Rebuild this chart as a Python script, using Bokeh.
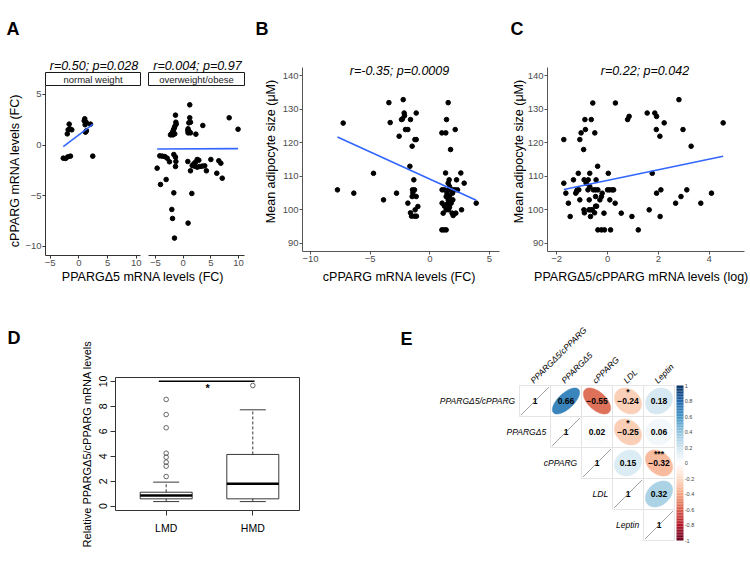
import numpy as np
from bokeh.plotting import figure
from bokeh.models import Range1d, FixedTicker, LinearAxis
from bokeh.core.properties import value
from bokeh.embed import file_html
from bokeh.resources import INLINE

FONT = "Liberation Sans"
BLUE = "#3366FF"
TICKCOL = "#4D4D4D"

# ---------------- data ----------------
# Panel A (facets)
A_facets = ["normal weight", "overweight/obese"]
A_titles = ["r=0.50; p=0.028", "r=0.004; p=0.97"]
A_nw_x = [-1.67, -1.85, -1.56, -1.22, -2.0, 1.04, 0.94, 1.28, 1.1, 2.03, 1.16, 1.33, -2.7, -2.3, -1.9, -1.45, 2.43]
A_nw_y = [2.06, 1.5, 1.6, 1.5, 1.1, 2.59, 2.39, 2.25, 2.0, 2.06, 1.27, 1.4, -1.3, -1.33, -1.17, -1.1, -1.1]
A_ow_x = [1.2, -1.37, 1.2, 8.3, -1.3, -1.25, -1.5, -1.6, -1.73, -1.9, -2.1, -2.27, -1.85, -1.5,
          1.03, 1.33, 0.9, 0.85, 1.1, 1.33, 0.9, 2.3, 3.55, 9.9, -4.2, -3.77, -3.3, -2.87, -2.45,
          -1.67, -1.37, -1.3, -1.37, -4.67, -4.07, -3.05, -1.67, -2.03, -1.9, -1.55, 0.9, 1.57, 0.85,
          1.64, 1.33, 1.93, 2.23, 2.54, 2.83, 3.0, 3.44, 3.9, 4.2, 5.0, 6.07, 6.43, 6.8, 7.05, 2.54, 2.1]
A_ow_y = [3.97, 2.95, 2.69, 2.69, 2.25, 2.06, 1.83, 1.66, 1.5, 1.27, 1.1, 1.0, 1.0, 1.1,
          2.19, 2.25, 1.6, 1.43, 1.33, 1.2, 1.2, 1.07, 1.93, 1.56, -1.07, -1.1, -1.14, -1.3, -1.66,
          -0.94, -1.2, -1.63, -2.12, -2.29, -3.9, -3.41, -4.73, -6.37, -7.26, -9.2, -7.72, -4.79, -1.63,
          -2.03, -2.55, -1.86, -1.7, -1.43, -1.5, -2.12, -2.09, -2.06, -2.55, -1.43, -2.79, -1.56, -1.8, -3.28, -2.19, -2.1]
A_fit_nw = (0.427, 1.0)      # slope, intercept
A_fit_ow = (0.0027, -0.387)
A_xticks = [-5, 0, 5, 10]
A_yticks = [-10, -5, 0, 5]
A_xlabel = "PPARG\u03945 mRNA levels (FC)"
A_ylabel = "cPPARG mRNA levels (FC)"

# Panel B
B_title = "r=-0.35; p=0.0009"
B_x = [-7.26, -7.74, -6.37, -4.72, -3.88, -3.43, -3.32, -2.79, -2.57, -2.23, -2.15, -2.12, -2.29, -2.37, -1.62,
       -1.14, -2.04, -1.84, -1.25, -1.14, -1.48, -1.67, -1.34, -1.45, -1.28, -1.42, -1.14, -1.48, -1.84, -1.0,
       -1.23, -1.62, -1.53, -1.28, -1.12,
       1.54, 1.40, 1.01, 1.34, 2.13, 1.74, 1.32, 2.6, 1.62, 2.24, 1.54, 1.65, 2.88, 1.03, 1.23, 1.6, 1.93, 2.1,
       2.32, 1.45, 1.65, 1.9, 1.37, 1.54, 1.93, 1.79, 1.03, 1.45, 1.23, 1.65, 1.37, 1.57, 2.66, 1.12, 2.18, 1.96,
       1.87, 1.01, 1.18, 1.37, 3.89]
B_y = [125.9, 105.96, 104.97, 110.9, 102.97, 132.0, 126.05, 104.97, 121.98, 132.9, 128.9, 128.1, 127.15, 126.95,
       126.95, 128.9, 123.97, 123.97, 120.98, 120.98, 119.0, 113.0, 108.95, 105.96, 105.96, 105.07, 103.97, 103.97,
       101.99, 100.99, 100.0, 99.1, 98.1, 98.1, 98.1,
       132.0, 126.95, 122.97, 122.97, 123.97, 118.0, 111.0, 111.0, 108.95, 108.95, 107.96, 106.96, 107.96, 105.96,
       105.96, 105.96, 105.96, 105.96, 105.96, 104.97, 104.07, 104.97, 103.97, 102.97, 102.97, 101.99, 101.99,
       101.69, 101.09, 100.8, 100.0, 100.0, 100.0, 99.0, 99.0, 98.3, 99.0, 94.0, 94.0, 94.0, 101.99]
B_fit = (-1.625, 109.17)
B_xticks = [-10, -5, 0, 5]
B_xlabel = "cPPARG mRNA levels (FC)"
BC_yticks = [90, 100, 110, 120, 130, 140]
BC_ylabel = "Mean adipocyte size (\u03bcM)"

# Panel C
C_title = "r=0.22; p=0.042"
C_x = [-1.72, -1.72, -1.64, -1.54, -1.47, -1.34, -1.15, -1.25, -1.19, -1.13,
       -1.22, -1.09, -1.09, -1.04, -0.87, -0.94, -0.89, -0.64, -0.58, -0.5,
       -0.92, -0.84, -0.76, -0.7, -0.7, -0.77, -0.56, -0.47, -0.38, -0.45,
       -0.39, -0.72, -0.47, -0.3, -0.21, -0.24, -0.93, -0.91, -0.73, -0.66,
       -0.6, -0.51, -0.47, -0.43, -0.14, -0.67, -0.38, -0.24, -0.12, 0.12,
       0.0, 0.08, 0.18, 0.24, 0.03, 0.09, 0.3, 0.31, 0.54, 0.79,
       0.85, 0.96, 1.21, 1.56, 1.64, 1.76, 1.86, 1.93, 1.92, 2.06,
       2.23, 1.93, 2.1, 2.07, 2.68, 2.81, 2.89, 2.97, 3.12, 3.29,
       3.67, 4.09, 4.55]
C_y = [120.98, 107.95, 104.97, 101.98, 98.0, 108.95, 110.9, 104.97, 105.96, 105.96,
       105.5, 102.97, 120.98, 122.97, 123.97, 118.0, 126.95, 126.95, 131.9, 122.97,
       108.95, 107.95, 108.95, 110.9, 106.96, 105.96, 105.96, 105.96, 105.96, 108.95,
       113.0, 102.97, 103.96, 102.97, 104.97, 103.96, 99.99, 99.1, 99.99, 99.99,
       99.99, 99.1, 101.08, 101.08, 99.0, 98.0, 94.0, 94.0, 94.0, 94.0,
       105.96, 105.96, 105.96, 105.96, 110.9, 102.97, 101.98, 131.9, 99.0, 126.95,
       127.9, 98.0, 94.0, 128.9, 99.99, 110.9, 128.9, 127.9, 123.97, 121.98,
       125.96, 104.97, 105.96, 98.0, 101.98, 132.9, 103.96, 123.97, 105.96, 118.99,
       101.98, 104.97, 125.96]
C_fit = (1.585, 108.79)
C_xticks = [-2, 0, 2, 4]
C_xlabel = "PPARG\u03945/cPPARG mRNA levels (log)"

# Panel D (box plot statistics)
D_groups = ["LMD", "HMD"]
D_wlo = [0.37, 0.37]
D_q1 = [0.59, 0.59]
D_med = [0.86, 1.80]
D_q3 = [1.12, 4.15]
D_whi = [1.93, 7.73]
D_out = [[2.38, 3.21, 3.53, 3.93, 4.25, 6.29, 7.35, 8.56], [9.68]]
D_yticks = [0, 2, 4, 6, 8, 10]
D_ylabel = "Relative PPARG\u03945/cPPARG mRNA levels"
D_sig = "*"

# Panel E (correlation matrix, upper triangle)
E_vars = ["PPARG\u03945/cPPARG", "PPARG\u03945", "cPPARG", "LDL", "Leptin"]
E_r = [[1.00, 0.66, -0.55, -0.24, 0.18],
       [None, 1.00, 0.02, -0.25, 0.06],
       [None, None, 1.00, 0.15, -0.32],
       [None, None, None, 1.00, 0.32],
       [None, None, None, None, 1.00]]
E_stars = {(0, 3): "*", (1, 3): "*", (2, 4): "***"}
E_cbar_ticks = [1, 0.8, 0.6, 0.4, 0.2, 0, -0.2, -0.4, -0.6, -0.8, -1]

# ---------------- page geometry (pixels from the top-left of the figure) ----------------
W, H = 750, 565


def xr(px0, px1, d0, d1):
    s = (px1 - px0) / (d1 - d0)
    return Range1d(d0 - px0 / s, d1 + (W - px1) / s)


def yr(px_top, px_bot, d_top, d_bot):
    s = (px_bot - px_top) / (d_top - d_bot)
    return Range1d(d_bot - (H - px_bot) / s, d_top + px_top / s)


p = figure(width=W, height=H, x_range=Range1d(0, W), y_range=Range1d(H, 0),
           x_axis_location=None, y_axis_location=None, output_backend="svg",
           toolbar_location=None, min_border=0, title=None)
p.outline_line_color = None
p.xgrid.visible = False
p.ygrid.visible = False

# panel frames (px: left, right, top, bottom)
A1_box = (45, 140, 85, 255)
A2_box = (148, 244, 85, 255)
B_box = (302, 499, 67, 251)
C_box = (547, 744, 67, 251)
D_box = (115, 299, 377, 510)
E_box = (519, 674, 385, 540)

A1_xlim = (-5.79, 10.73)
A2_xlim = (-6.23, 11.06)
A_ylim = (5.88, -10.92)
B_xlim = (-10.67, 5.84)
C_xlim = (-2.362, 5.39)
BC_ylim = (142.5, 87.55)
D_xlim = (0.415, 2.539)
D_ylim = (10.32, -0.345)

p.extra_x_ranges = {
    "A1x": xr(A1_box[0], A1_box[1], *A1_xlim),
    "A2x": xr(A2_box[0], A2_box[1], *A2_xlim),
    "Bx": xr(B_box[0], B_box[1], *B_xlim),
    "Cx": xr(C_box[0], C_box[1], *C_xlim),
    "Dx": xr(D_box[0], D_box[1], *D_xlim),
    "Ex": xr(E_box[0], E_box[1], 0.5, 5.5),
}
p.extra_y_ranges = {
    "Ay": yr(A1_box[2], A1_box[3], *A_ylim),
    "BCy": yr(B_box[2], B_box[3], *BC_ylim),
    "Dy": yr(D_box[2], D_box[3], *D_ylim),
    "Ey": yr(E_box[2], E_box[3], 5.5, 0.5),
}


def add_axis(side, rname, loc, ticks, bounds, line_color="#333333", tick_out=3, lab_size=9.5,
             lab_color=TICKCOL, lab_standoff=1, minus=True, overrides=None):
    if side == "below":
        ax = LinearAxis(x_range_name=rname, fixed_location=loc)
    else:
        ax = LinearAxis(y_range_name=rname, fixed_location=loc)
    ax.bounds = bounds
    ax.ticker = FixedTicker(ticks=ticks)
    if overrides is not None:
        ax.major_label_overrides = overrides
    elif minus:
        ax.major_label_overrides = {t: ("\u2212" + str(abs(t)) if t < 0 else str(t)) for t in ticks}
    ax.axis_line_color = line_color
    ax.axis_line_width = 1
    ax.major_tick_line_color = line_color
    ax.minor_tick_line_color = None
    ax.major_tick_out = tick_out
    ax.major_tick_in = 0
    ax.major_label_text_font = FONT
    ax.major_label_text_font_size = f"{lab_size}px"
    ax.major_label_text_color = lab_color
    ax.major_label_standoff = lab_standoff
    p.add_layout(ax, side)
    return ax


def txt(x, y, s, size, style="normal", align="left", baseline="alphabetic", color="black", angle=0,
        xn="default", yn="default"):
    p.text(x=[x], y=[y], text=[s], text_font=value(FONT), text_font_size=value(f"{size}px"),
           text_font_style=style, text_align=align, text_baseline=baseline, text_color=color, angle=angle,
           x_range_name=xn, y_range_name=yn)


def fit_line(xs, fit, xn, yn):
    x0, x1 = min(xs), max(xs)
    p.line([x0, x1], [fit[1] + fit[0] * x0, fit[1] + fit[0] * x1], line_color=BLUE, line_width=1.6,
           x_range_name=xn, y_range_name=yn)


RDBU = ["#67001F", "#B2182B", "#D6604D", "#F4A582", "#FDDBC7", "#FFFFFF",
        "#D1E5F0", "#92C5DE", "#4393C3", "#2166AC", "#053061"]


def rdbu(v):
    t = (v + 1) / 2 * 10
    i = min(int(t), 9)
    f = t - i
    a = [int(RDBU[i][k:k + 2], 16) for k in (1, 3, 5)]
    b = [int(RDBU[i + 1][k:k + 2], 16) for k in (1, 3, 5)]
    c = [round(a[k] + (b[k] - a[k]) * f) for k in range(3)]
    return "#%02x%02x%02x" % tuple(c)


# ---------------- Panel A ----------------
txt(6, 28, "A", 18, "bold")
for i, box in enumerate([A1_box, A2_box]):
    p.quad(left=[box[0]], right=[box[1]], top=[72], bottom=[box[2]],
           fill_color="white", line_color="#1a1a1a", line_width=1)
    cx = (box[0] + box[1]) / 2
    txt(cx, 78.5, A_facets[i], 9.5, align="center", baseline="middle", color="#1a1a1a")
    txt(cx + 1, 65, A_titles[i], 12.5, style="italic", align="center")

add_axis("below", "A1x", A1_box[3], A_xticks, A1_xlim, lab_standoff=1)
add_axis("below", "A2x", A2_box[3], A_xticks, A2_xlim, lab_standoff=1)
add_axis("left", "Ay", A1_box[0], A_yticks, (A_ylim[1], A_ylim[0]), lab_standoff=1)
p.scatter(A_nw_x, A_nw_y, size=4.6, color="black", x_range_name="A1x", y_range_name="Ay")
p.scatter(A_ow_x, A_ow_y, size=4.6, color="black", x_range_name="A2x", y_range_name="Ay")
fit_line(A_nw_x, A_fit_nw, "A1x", "Ay")
fit_line(A_ow_x, A_fit_ow, "A2x", "Ay")
txt(142.5, 276, A_xlabel, 12.5, align="center")
txt(14, (A1_box[2] + A1_box[3]) / 2, A_ylabel, 12.5, align="center", baseline="middle", angle=np.pi / 2)

# ---------------- Panel B ----------------
txt(255, 28, "B", 18, "bold")
add_axis("below", "Bx", B_box[3], B_xticks, B_xlim, line_color="#555555", lab_standoff=1)
add_axis("left", "BCy", B_box[0], BC_yticks, (BC_ylim[1], BC_ylim[0]), line_color="#555555", lab_standoff=1,
         minus=False)
p.scatter(B_x, B_y, size=4.6, color="black", x_range_name="Bx", y_range_name="BCy")
fit_line(B_x, B_fit, "Bx", "BCy")
txt(399, 70, B_title, 12.5, style="italic", align="center")
txt(399, 276, B_xlabel, 12.5, align="center")
txt(270, 151, BC_ylabel, 12.5, align="center", baseline="middle", angle=np.pi / 2)

# ---------------- Panel C ----------------
txt(510, 28, "C", 18, "bold")
add_axis("below", "Cx", C_box[3], C_xticks, C_xlim, line_color="#555555", lab_standoff=1)
add_axis("left", "BCy", C_box[0], BC_yticks, (BC_ylim[1], BC_ylim[0]), line_color="#555555", lab_standoff=1,
         minus=False)
p.scatter(C_x, C_y, size=4.6, color="black", x_range_name="Cx", y_range_name="BCy")
fit_line(C_x, C_fit, "Cx", "BCy")
txt(644.5, 70, C_title, 12.5, style="italic", align="center")
txt(641, 276, C_xlabel, 12.5, align="center")
txt(518, 151, BC_ylabel, 12.5, align="center", baseline="middle", angle=np.pi / 2)

# ---------------- Panel D ----------------
txt(7, 337, "D", 18, "bold")
p.quad(left=[D_box[0]], right=[D_box[1]], top=[D_box[2]], bottom=[D_box[3]], fill_color=None,
       line_color="#333333", line_width=1)
ay = add_axis("left", "Dy", D_box[0], D_yticks, (0, 10), line_color="#333333", tick_out=5, lab_size=10.5,
              lab_color="black", lab_standoff=3, minus=False)
ay.major_label_orientation = "vertical"
add_axis("below", "Dx", D_box[3], [1, 2], (1, 2), line_color="#333333", tick_out=5, lab_size=10.5,
         lab_color="black", lab_standoff=6, overrides={1: D_groups[0], 2: D_groups[1]})
pos = [1, 2]
bw = 0.3
dk = dict(x_range_name="Dx", y_range_name="Dy")
p.quad(left=[q - bw for q in pos], right=[q + bw for q in pos], bottom=D_q1, top=D_q3,
       fill_color=None, line_color="#222222", line_width=0.9, **dk)
p.segment(x0=[q - bw for q in pos], x1=[q + bw for q in pos], y0=D_med, y1=D_med,
          line_color="black", line_width=2.4, **dk)
p.segment(x0=pos + pos, x1=pos + pos, y0=D_q3 + D_q1, y1=D_whi + D_wlo,
          line_color="#222222", line_width=0.9, line_dash="3 2", **dk)
p.segment(x0=[q - bw / 2 for q in pos] * 2, x1=[q + bw / 2 for q in pos] * 2, y0=D_whi + D_wlo,
          y1=D_whi + D_wlo, line_color="#222222", line_width=0.9, **dk)
ox = [pos[i] for i in range(2) for _ in D_out[i]]
oy = [v for i in range(2) for v in D_out[i]]
p.scatter(ox, oy, marker="circle", size=4.6, fill_color=None, line_color="#444444", line_width=0.8, **dk)
p.segment(x0=[0.915], x1=[2.02], y0=[10.02], y1=[10.02], line_color="black", line_width=1.6, **dk)
txt(1.48, 9.92, D_sig, 11, style="bold", align="center", baseline="top", xn="Dx", yn="Dy")
txt(86, (D_box[2] + D_box[3]) / 2, D_ylabel, 11, align="center", baseline="middle", angle=np.pi / 2)

# ---------------- Panel E ----------------
txt(400, 338, "E", 18, "bold")
ek = dict(x_range_name="Ex", y_range_name="Ey")
n = len(E_vars)
cell_x, cell_y = [], []
for i in range(n):
    for j in range(i, n):
        cell_x.append(j + 1)
        cell_y.append(5 - i)
p.rect(cell_x, cell_y, width=1, height=1, fill_color="white", line_color="#dedede", line_width=0.8, **ek)

ell_xs, ell_ys, ell_cols = [], [], []
num_x, num_y, num_t = [], [], []
diag_x0, diag_y0, diag_x1, diag_y1 = [], [], [], []
k = np.linspace(0, 2 * np.pi, 80)
for i in range(n):
    for j in range(i, n):
        r = E_r[i][j]
        cx, cy = j + 1, 5 - i
        if i == j:
            diag_x0.append(cx - 0.45); diag_y0.append(cy - 0.45)
            diag_x1.append(cx + 0.45); diag_y1.append(cy + 0.45)
            num_x.append(cx); num_y.append(cy); num_t.append("1")
            continue
        a = np.arccos(r) / 2
        ell_xs.append(list(cx + 0.44 * np.cos(k + a)))
        ell_ys.append(list(cy + 0.42 * np.cos(k - a)))
        ell_cols.append(rdbu(r))
        s = ("\u2212%.2f" % abs(r)) if r < 0 else "%.2f" % r
        num_x.append(cx); num_y.append(cy); num_t.append(s)
p.patches(ell_xs, ell_ys, fill_color=ell_cols, line_color=ell_cols, line_width=0.5, **ek)
p.segment(x0=diag_x0, y0=diag_y0, x1=diag_x1, y1=diag_y1, line_color="#777777", line_width=0.7, **ek)
p.text(num_x, num_y, text=num_t, text_font=value(FONT), text_font_size=value("8.5px"),
       text_font_style="bold", text_align="center", text_baseline="middle", text_color="black", **ek)
st_x = [j + 1 for (i, j) in E_stars]
st_y = [5 - i + 0.12 for (i, j) in E_stars]
p.text(st_x, st_y, text=list(E_stars.values()), text_font=value(FONT), text_font_size=value("8.5px"),
       text_font_style="bold", text_align="center", text_baseline="bottom", text_color="black", **ek)
p.text([i + 0.5 - 0.14 for i in range(n)], [5 - i for i in range(n)], text=E_vars,
       text_font=value(FONT), text_font_size=value("8.5px"), text_font_style="italic",
       text_align="right", text_baseline="middle", text_color="black", **ek)
p.text([j + 1 - 0.1 for j in range(n)], [5.62] * n, text=E_vars, angle=np.pi / 4,
       text_font=value(FONT), text_font_size=value("8.5px"), text_font_style="italic",
       text_align="left", text_baseline="alphabetic", text_color="black", **ek)
nb = 100
edges = np.linspace(0.5, 5.5, nb + 1)
vals = np.linspace(-1, 1, nb + 1)
mids = (vals[:-1] + vals[1:]) / 2
p.quad(left=5.565, right=5.79, bottom=edges[:-1], top=edges[1:], fill_color=[rdbu(v) for v in mids],
       line_color=None, **ek)
p.text([5.83] * len(E_cbar_ticks), [3 + 2.5 * v for v in E_cbar_ticks],
       text=[("%g" % v) for v in E_cbar_ticks], text_font=value(FONT), text_font_size=value("5.5px"),
       text_align="left", text_baseline="middle", text_color="#444444", **ek)

open("out.html", "w").write(file_html(p, INLINE))
